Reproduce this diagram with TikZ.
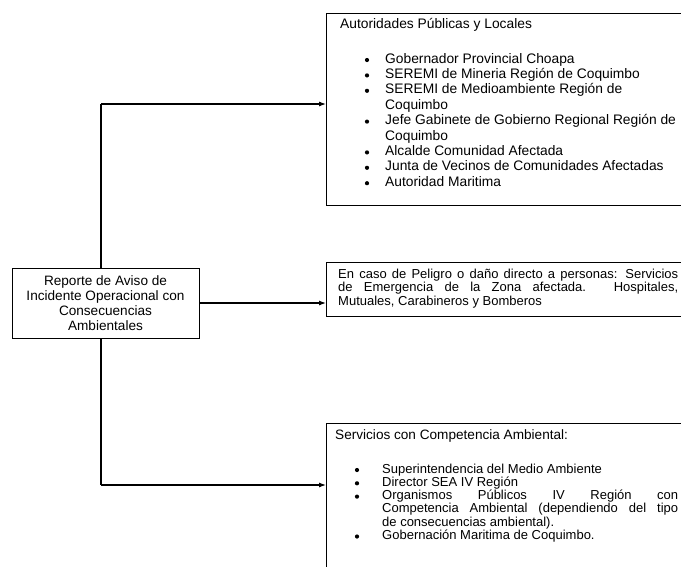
\documentclass[tikz,border=0pt]{standalone}
\usepackage{fontspec}
\setmainfont{Liberation Sans}
\usetikzlibrary{arrows.meta}

\tikzset{
    caja/.style={draw, line width=1pt, fill=white, inner sep=0pt},
    flecha/.style={line width=1.1pt, -{Latex[length=7pt,width=5pt]}},
    linea/.style={line width=1.1pt},
    texto/.style={anchor=west, inner sep=0pt, text height=9pt, text depth=3pt,
        font=\fontsize{13}{15}\selectfont},
    grande/.style={texto, font=\fontsize{13.8}{15}\selectfont},
    vineta/.style={circle, fill, inner sep=0pt, minimum size=4.2pt}
}

\begin{document}
\begin{tikzpicture}[x=1pt, y=-1pt]
    \clip (0,0) rectangle (681,566);
    \fill [white] (0,0) rectangle (681,566);

    % tronco
    \coordinate (arriba) at (101,104);
    \coordinate (abajo) at (101,485);
    \draw [linea] (arriba) -- (abajo);

    \node [caja, minimum width=187pt, minimum height=70pt, align=center,
        font=\fontsize{13.6}{15}\selectfont] (reporte) at (105.5,303)
        {Reporte de Aviso de\\Incidente Operacional con\\Consecuencias\\Ambientales};

    \node [caja, anchor=north west, minimum width=370pt, minimum height=192pt]
        (autoridades) at (326,13) {};
    \node [caja, anchor=north west, minimum width=370pt, minimum height=54pt]
        (emergencia) at (326,262) {};
    \node [caja, anchor=north west, minimum width=370pt, minimum height=170pt]
        (servicios) at (326,423) {};

    \draw [flecha] (arriba) -- (arriba -| autoridades.west);
    \draw [flecha] (reporte.east) -- (reporte.east -| emergencia.west);
    \draw [flecha] (abajo) -- (abajo -| servicios.west);

    % autoridades
    \node [grande] (tit1) at (340,25) {Autoridades Públicas y Locales};
    \foreach \y/\t [count=\i] in {60/Gobernador Provincial Choapa,
            75.4/SEREMI de Mineria Región de Coquimbo,
            90.8/SEREMI de Medioambiente Región de,
            106.2/Coquimbo,
            121.6/Jefe Gabinete de Gobierno Regional Región de,
            137/Coquimbo,
            152.4/Alcalde Comunidad Afectada,
            167.8/Junta de Vecinos de Comunidades Afectadas,
            183.2/Autoridad Maritima}
        {\node [grande] (aut\i) at (385,\y) {\t};}
    \foreach \y [count=\i] in {60,75.4,90.8,121.6,152.4,167.8,183.2}
        {\node [vineta] (va\i) at (367,\y) {};}

    % emergencia
    \node [texto] (em1) at (338,275)
        {\makebox[340pt][s]{En caso de Peligro o daño directo a personas: Servicios}};
    \node [texto] (em2) at (338,288.5)
        {\makebox[340pt][s]{de Emergencia de la Zona afectada. Hospitales,}};
    \node [texto] (em3) at (338,302) {Mutuales, Carabineros y Bomberos};

    % servicios
    \node [texto, font=\fontsize{13.6}{15}\selectfont] (tit3) at (335,436)
        {Servicios con Competencia Ambiental:};
    \foreach \y/\t [count=\i] in {470/Superintendencia del Medio Ambiente,
            483.3/Director SEA IV Región,
            523.2/de consecuencias ambiental).,
            536.5/Gobernación Maritima de Coquimbo.}
        {\node [texto] (ser\i) at (382,\y) {\t};}
    \node [texto] (ser5) at (382,496.6)
        {\makebox[296pt][s]{Organismos Públicos IV Región con}};
    \node [texto] (ser6) at (382,509.9)
        {\makebox[296pt][s]{Competencia Ambiental (dependiendo del tipo}};
    \foreach \y [count=\i] in {470,483.3,496.6,536.5}
        {\node [vineta] (vs\i) at (357,\y) {};}
\end{tikzpicture}
\end{document}
